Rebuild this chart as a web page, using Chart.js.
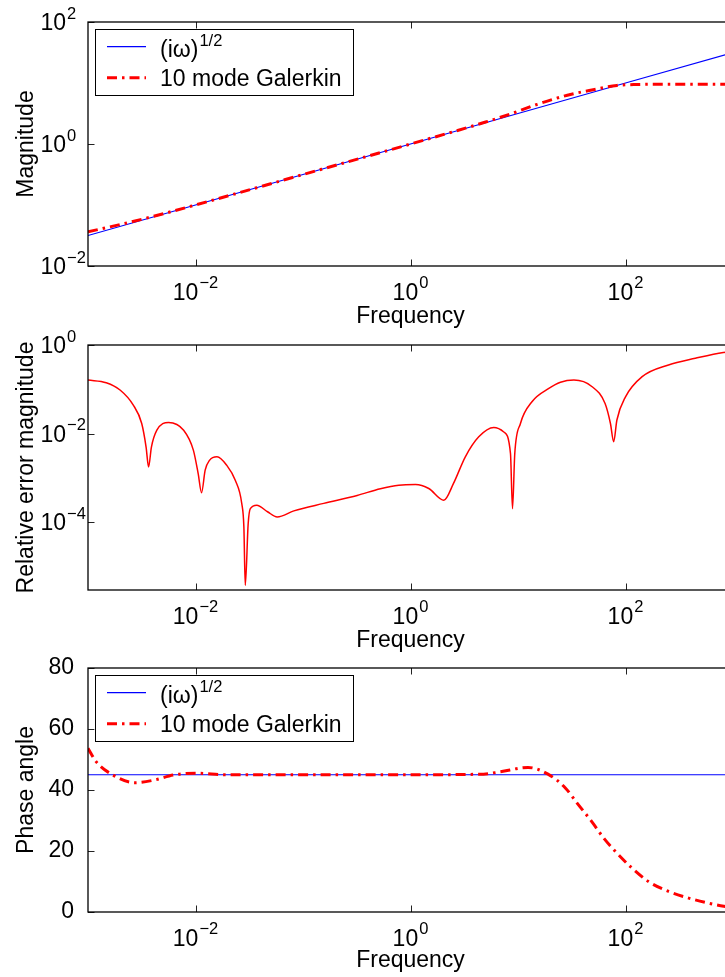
<!DOCTYPE html>
<html><head><meta charset="utf-8">
<script src="https://cdn.jsdelivr.net/npm/chart.js@4.4.0/dist/chart.umd.min.js"></script>
<style>
html,body{margin:0;padding:0;background:#fff;overflow:hidden;}
#wrap{position:relative;width:725px;height:977px;overflow:hidden;background:#fff;}
canvas{position:absolute;left:0;top:0;}
</style></head><body>
<div id="wrap">
<canvas id="c1" width="735" height="977"></canvas>
<canvas id="c2" width="735" height="977"></canvas>
<canvas id="c3" width="735" height="977"></canvas>
</div>
<script>
// ---------- DATA ----------
const xTickValues = [1e-2, 1, 1e2];
const xTickLabels = ['10^-2', '10^0', '10^2'];
const magTickValues = [1e-2, 1, 1e2];
const magTickLabels = ['10^-2', '10^0', '10^2'];
const errTickValues = [1e-4, 1e-2, 1];
const errTickLabels = ['10^-4', '10^-2', '10^0'];
const phaseTickValues = [0, 20, 40, 60, 80];

const exactLabel = '(iω)^1/2';
const galerkinLabel = '10 mode Galerkin';

// magnitude
const magExactFreq = [1e-3, 1e-2, 1e-1, 1, 1e1, 1e2, 1e3];
const magExact = [0.0316, 0.1, 0.316, 1, 3.16, 10, 31.6];
const magGalFreq = [1e-3, 2e-3, 3.98e-3, 1e-2, 0.1, 1, 5, 9.12, 15.1, 28.8, 50.1, 83.2, 126, 316, 1000];
const magGal = [0.0363, 0.0479, 0.0646, 0.1, 0.316, 1, 2.29, 3.24, 4.47, 6.31, 7.76, 9.12, 9.44, 9.55, 9.55];

// relative error
const errFreq = [1e-3, 1.479e-3, 2.0e-3, 2.63e-3, 3.16e-3, 3.47e-3, 3.66e-3, 3.89e-3, 4.37e-3, 5.62e-3,
  7.76e-3, 9.55e-3, 0.01059, 0.01138, 0.0123, 0.01349, 0.01585, 0.0195, 0.02344, 0.02692,
  0.02818, 0.02904, 0.0309, 0.03236, 0.03715, 0.04677, 0.05754, 0.0822, 0.156, 0.319,
  0.525, 0.778, 1.114, 1.479, 2.042, 2.512, 3.236, 4.315, 5.957, 7.379,
  8.511, 8.89, 9.333, 10.54, 13.49, 19.36, 24.83, 33.11, 48.98, 64.57,
  72.44, 77.62, 83.18, 100, 142.9, 251.2, 446.7, 812.8, 1000];
const errVal = [0.162, 0.141, 0.0955, 0.0447, 0.017, 5.01e-3, 1.78e-3, 5.01e-3, 0.012, 0.018,
  0.012, 4.27e-3, 1.26e-3, 4.68e-4, 1.51e-3, 2.51e-3, 3.02e-3, 1.95e-3, 8.91e-4, 2.69e-4,
  7.94e-5, 3.8e-6, 9.33e-5, 2.04e-4, 2.45e-4, 1.74e-4, 1.33e-4, 1.82e-4, 2.69e-4, 4.07e-4,
  5.75e-4, 6.92e-4, 7.16e-4, 5.82e-4, 3.16e-4, 7.59e-4, 3.02e-3, 8.51e-3, 0.0138, 0.01096,
  3.59e-3, 2.04e-4, 3.59e-3, 0.017, 0.0525, 0.1047, 0.1445, 0.1622, 0.1148, 0.0479,
  0.017, 6.61e-3, 0.0204, 0.0676, 0.193, 0.355, 0.501, 0.676, 0.708];

// phase
const phaseExactFreq = [1e-3, 1e-2, 1e-1, 1, 1e1, 1e2, 1e3];
const phaseExact = [45, 45, 45, 45, 45, 45, 45];
const phaseGalFreq = [1e-3, 1.19e-3, 1.71e-3, 2.72e-3, 4.18e-3, 6.21e-3, 0.0102, 0.0194, 0.1, 1,
  4.78, 6.87, 12.4, 19.0, 27.7, 35.6, 47.2, 62.8, 83.7, 111, 165, 253, 375, 575, 821, 1000];
const phaseGal = [53.7, 49.3, 44.9, 42.4, 43.3, 44.9, 45.5, 45.0, 45.0, 45.0,
  45.2, 46.0, 47.4, 45.2, 40.6, 35.6, 30.2, 24.2, 19.2, 14.9, 9.9, 6.7, 4.7, 3.0, 1.9, 1.6];

// ---------- STYLE ----------
const FONT = "'Liberation Sans', Arial, Helvetica, sans-serif";
const FS = 23;
const EXP_FS = 16.5;
const BLUE = '#0000ff';
const RED = '#ff0000';
const DASHDOT = [10, 5, 2.5, 5];
const PAGE_H = 977;

function pts(xs, ys) { return xs.map((x, i) => ({x: x, y: ys[i]})); }

function splitPow(label) {
  const i = label.indexOf('^');
  if (i < 0) return [label, ''];
  return [label.slice(0, i), label.slice(i + 1).replace('-', '\u2212')];
}

function drawPow(ctx, label, x, baseline, mode) {
  const [b, e] = splitPow(label);
  ctx.font = FS + 'px ' + FONT;
  const wb = ctx.measureText(b).width;
  ctx.font = EXP_FS + 'px ' + FONT;
  const we = ctx.measureText(e).width;
  let x0 = x;
  if (mode === 'center') x0 = x - (wb + 1 + we) / 2;
  ctx.textAlign = 'left';
  ctx.textBaseline = 'alphabetic';
  ctx.fillStyle = '#000';
  ctx.font = FS + 'px ' + FONT;
  ctx.fillText(b, x0, baseline);
  ctx.font = EXP_FS + 'px ' + FONT;
  ctx.fillText(e, x0 + wb + 1, baseline - 11.5);
}

const matlabAxes = {
  id: 'matlabAxes',
  afterDatasetsDraw(chart, args, opts) {
    const ctx = chart.ctx;
    const a = chart.chartArea;
    const xs = chart.scales.x, ys = chart.scales.y;
    ctx.save();
    // ticks
    ctx.strokeStyle = '#222';
    ctx.lineWidth = 1;
    const TL = 6.5;
    ctx.beginPath();
    opts.xTicks.forEach(v => {
      const px = Math.round(xs.getPixelForValue(v)) + 0.5;
      ctx.moveTo(px, a.bottom); ctx.lineTo(px, a.bottom - TL);
      ctx.moveTo(px, a.top); ctx.lineTo(px, a.top + TL);
    });
    opts.yTicks.forEach(v => {
      const py = Math.round(ys.getPixelForValue(v)) + 0.5;
      ctx.moveTo(a.left, py); ctx.lineTo(a.left + TL, py);
      ctx.moveTo(a.right, py); ctx.lineTo(a.right - TL, py);
    });
    ctx.stroke();
    // box
    ctx.strokeStyle = '#000';
    ctx.lineWidth = 1.3;
    ctx.strokeRect(a.left, a.top, a.right - a.left, a.bottom - a.top);
    // x labels
    opts.xTicks.forEach((v, i) => {
      drawPow(ctx, opts.xLabels[i], xs.getPixelForValue(v), a.bottom + 33.5, 'center');
    });
    if (opts.yLabels) {
      opts.yTicks.forEach((v, i) => {
        drawPow(ctx, opts.yLabels[i], 40.5, ys.getPixelForValue(v) + 8, 'left');
      });
    }
    // legend
    if (opts.legend) {
      const bx = a.left + 6.7, by = a.top + 7.3, bw = 258, bh = 66;
      ctx.fillStyle = '#fff';
      ctx.fillRect(bx, by, bw, bh);
      ctx.strokeStyle = '#000';
      ctx.lineWidth = 1;
      ctx.strokeRect(Math.round(bx) + 0.5, Math.round(by) + 0.5, bw, bh);
      chart.data.datasets.forEach((ds, i) => {
        const ly = by + 17.4 + i * 31;
        ctx.save();
        ctx.strokeStyle = ds.borderColor;
        ctx.lineWidth = ds.borderWidth;
        ctx.setLineDash(ds.borderDash || []);
        ctx.beginPath();
        ctx.moveTo(bx + 12.3, ly); ctx.lineTo(bx + 51.3, ly);
        ctx.stroke();
        ctx.restore();
        const [b, e] = splitPow(ds.label);
        ctx.fillStyle = '#000';
        ctx.textAlign = 'left';
        ctx.textBaseline = 'alphabetic';
        ctx.font = FS + 'px ' + FONT;
        const tx = bx + 65.3;
        const base = i === 0 ? ly + 10 : ly + 8;
        ctx.fillText(b, tx, base);
        if (e) {
          const wb = ctx.measureText(b).width;
          ctx.font = EXP_FS + 'px ' + FONT;
          ctx.fillText(e.replace('\u2212', '-'), tx + wb + 1, base - 10.5);
        }
      });
    }
    ctx.restore();
  }
};

function makeChart(id, cfg) {
  const T = cfg.top, B = cfg.bottom;
  const H = cfg.titleOffset + FS * 0.6;
  const yScale = Object.assign({
    position: 'left',
    grid: {display: false},
    border: {display: false},
    title: {display: true, text: cfg.yTitle, color: '#000', font: {family: FONT, size: FS}, padding: {top: 12.5, bottom: 0}},
    afterFit: s => { s.width = 88; }
  }, cfg.y);
  return new Chart(document.getElementById(id), {
    type: 'line',
    data: {datasets: cfg.datasets},
    options: {
      responsive: false,
      animation: false,
      events: [],
      layout: {padding: {top: T, bottom: PAGE_H - B - H, left: 0, right: 2}},
      plugins: {
        legend: {display: false},
        tooltip: {enabled: false},
        matlabAxes: cfg.axes
      },
      elements: {point: {radius: 0}},
      scales: {
        x: {
          type: 'logarithmic', min: 1e-3, max: 1e3, position: 'bottom',
          grid: {display: false}, border: {display: false},
          ticks: {display: false},
          title: {display: true, text: 'Frequency', color: '#000', font: {family: FONT, size: FS}, padding: {top: 0, bottom: 0}},
          afterFit: s => { s.height = H; }
        },
        y: yScale
      }
    },
    plugins: [matlabAxes]
  });
}

const exactStyle = {borderColor: BLUE, borderWidth: 1.2, fill: false, pointRadius: 0, tension: 0, order: 1};
const galStyle = {borderColor: RED, borderWidth: 3, borderDash: DASHDOT, borderCapStyle: 'butt', fill: false, pointRadius: 0, cubicInterpolationMode: 'monotone', order: 0};

makeChart('c1', {
  top: 22, bottom: 266, titleOffset: 51, yTitle: 'Magnitude',
  y: {type: 'logarithmic', min: 1e-2, max: 1e2, ticks: {display: false}},
  datasets: [
    Object.assign({label: exactLabel, data: pts(magExactFreq, magExact)}, exactStyle),
    Object.assign({label: galerkinLabel, data: pts(magGalFreq, magGal)}, galStyle)
  ],
  axes: {xTicks: xTickValues, xLabels: xTickLabels, yTicks: magTickValues, yLabels: magTickLabels, legend: true}
});

makeChart('c2', {
  top: 345, bottom: 590, titleOffset: 50.7, yTitle: 'Relative error magnitude',
  y: {type: 'logarithmic', min: 3e-6, max: 1, ticks: {display: false}},
  datasets: [
    {label: 'Relative error', data: pts(errFreq, errVal), borderColor: RED, borderWidth: 1.5, fill: false, pointRadius: 0, cubicInterpolationMode: 'monotone'}
  ],
  axes: {xTicks: xTickValues, xLabels: xTickLabels, yTicks: errTickValues, yLabels: errTickLabels, legend: false}
});

makeChart('c3', {
  top: 668, bottom: 912, titleOffset: 48.6, yTitle: 'Phase angle',
  y: {type: 'linear', min: 0, max: 80,
      ticks: {stepSize: 20, color: '#000', padding: 6, font: {family: FONT, size: FS}}},
  datasets: [
    Object.assign({label: exactLabel, data: pts(phaseExactFreq, phaseExact)}, exactStyle),
    Object.assign({label: galerkinLabel, data: pts(phaseGalFreq, phaseGal)}, galStyle)
  ],
  axes: {xTicks: xTickValues, xLabels: xTickLabels, yTicks: phaseTickValues, yLabels: null, legend: true}
});
</script>
</body></html>
